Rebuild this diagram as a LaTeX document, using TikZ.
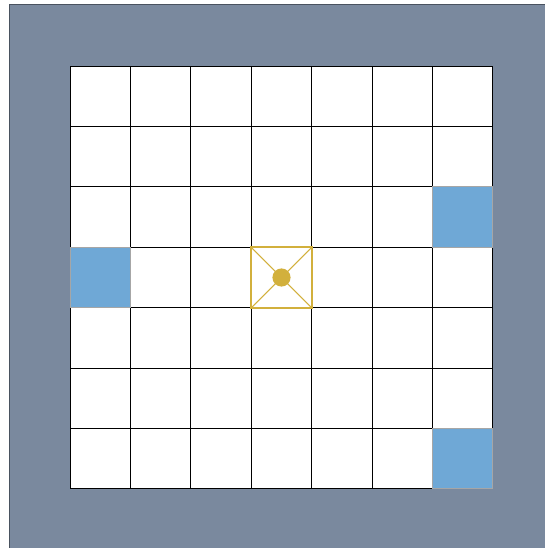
\documentclass[tikz,border=0pt]{standalone}
\usepackage{xcolor}
\definecolor{cFrame}{HTML}{7A899E}
\definecolor{cCell}{HTML}{6FA8D6}
\definecolor{cGold}{HTML}{D2B03C}
\usetikzlibrary{positioning}
\tikzset{
  board-frame/.style={fill=cFrame,draw=cFrame!60!black,line width=0.4pt},
  grid-line/.style={draw=black,line width=0.45pt},
  cell-blue/.style={fill=cCell,draw=gray!70,line width=0.45pt},
  cell-goal/.style={draw=cGold,line width=0.9pt},
  goal-cross/.style={draw=cGold,line width=0.5pt},
  goal-dot/.style={circle,fill=cGold,inner sep=0pt,minimum size=3mm},
}

\begin{document}
\begin{tikzpicture}[y=-1cm]
  \useasboundingbox (-1.159,-1.093) rectangle (7.861,7.977);
  \fill[board-frame] (-1.01,-1.027) rectangle (7.861,7.977);
  \fill[white] (0,0) rectangle (7,7);
  % grid
  \foreach \i in {0,...,7} {
    \draw[grid-line] (\i,0) -- (\i,7);
    \draw[grid-line] (0,\i) -- (7,\i);
  }
  % coloured cells
  \draw[cell-blue] (6,2) rectangle (7,3);
  \draw[cell-blue] (0,3) rectangle (1,4);
  \draw[cell-blue] (6,6) rectangle (7,7);
  % goal cell
  \coordinate (g1) at (3,3);
  \coordinate (g2) at (4,3);
  \coordinate (g3) at (4,4);
  \coordinate (g4) at (3,4);
  \fill[white] (g1) rectangle (g3);
  \draw[goal-cross] (g1) -- (g3);
  \draw[goal-cross] (g2) -- (g4);
  \draw[cell-goal] (g1) -- (g2) -- (g3) -- (g4) -- cycle;
  \node[goal-dot] (dot) at (3.5,3.5) {};
\end{tikzpicture}
\end{document}
